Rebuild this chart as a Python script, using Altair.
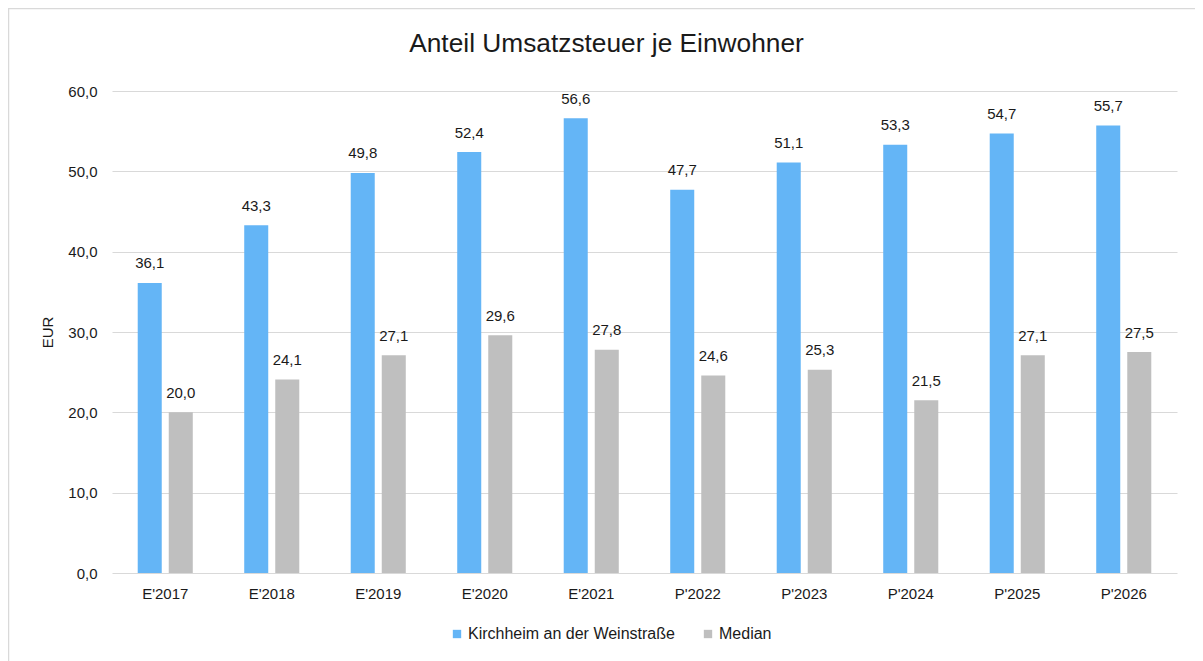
import altair as alt
import pandas as pd

categories = ["E'2017", "E'2018", "E'2019", "E'2020", "E'2021", "P'2022", "P'2023", "P'2024", "P'2025", "P'2026"]
kirchheim = [36.1, 43.3, 49.8, 52.4, 56.6, 47.7, 51.1, 53.3, 54.7, 55.7]
median = [20.0, 24.1, 27.1, 29.6, 27.8, 24.6, 25.3, 21.5, 27.1, 27.5]
series = ["Kirchheim an der Weinstraße", "Median"]
colors = ["#64B5F6", "#BFBFBF"]
y_ticks = [0, 10, 20, 30, 40, 50, 60]

rows = []
for c, k, m in zip(categories, kirchheim, median):
    rows.append({"cat": c, "series": series[0], "v": k})
    rows.append({"cat": c, "series": series[1], "v": m})
df = pd.DataFrame(rows)

FONT = "Liberation Sans"
TXT = "#1a1a1a"
FS = 15
W, H = 1065, 482

base = alt.Chart(df).encode(
    x=alt.X("cat:N", sort=categories, title=None,
            scale=alt.Scale(paddingInner=0.483, paddingOuter=0.2415),
            axis=alt.Axis(labelAngle=0, labelPadding=13, ticks=False, domain=False,
                          labelFontSize=FS, labelFont=FONT, labelColor=TXT, grid=False)),
    xOffset=alt.XOffset("series:N", sort=series,
                        scale=alt.Scale(paddingInner=0.226, paddingOuter=0)),
    y=alt.Y("v:Q", title="EUR",
            scale=alt.Scale(domain=[0, 60], nice=False),
            axis=alt.Axis(values=y_ticks, labelExpr="replace(format(datum.value, '.1f'), '.', ',')",
                          ticks=False, domain=False, labelPadding=15, labelFontSize=FS,
                          labelFont=FONT, labelColor=TXT, gridColor="#d9d9d9",
                          titleFont=FONT, titleFontSize=FS, titleFontWeight="normal",
                          titleColor=TXT, titlePadding=12)),
)

bars = base.mark_bar().encode(
    color=alt.Color("series:N", sort=series,
                    scale=alt.Scale(domain=series, range=colors),
                    legend=alt.Legend(title=None, orient="none", direction="horizontal",
                                      legendX=337, legendY=535, symbolType="square",
                                      symbolSize=70, symbolStrokeWidth=0, labelFont=FONT,
                                      labelFontSize=16, labelColor=TXT, labelLimit=0,
                                      labelOffset=3, columnPadding=25))
)

labels = base.mark_text(baseline="alphabetic", dy=-14.5, font=FONT, fontSize=FS, color=TXT).encode(
    text=alt.Text("lbl:N")
).transform_calculate(lbl="replace(format(datum.v, '.1f'), '.', ',')")

frame = alt.Chart(pd.DataFrame({"a": [1]})).mark_rect(
    fill=None, stroke="#d9d9d9", strokeWidth=1.5
).encode(
    x=alt.value(-103.5), x2=alt.value(1150), y=alt.value(-82.5), y2=alt.value(640)
)

chart = alt.layer(frame, bars, labels).properties(
    width=W, height=H,
    autosize=alt.AutoSizeParams(type="none"),
    padding={"left": 104, "top": 83, "right": 18, "bottom": 88},
    title=alt.TitleParams("Anteil Umsatzsteuer je Einwohner", font=FONT, fontSize=26.3,
                          fontWeight="normal", color=TXT, anchor="middle",
                          frame="group", dx=-38, offset=-50),
).configure_view(stroke=None)

chart.save("out.html", embed_options={"renderer": "svg", "actions": False})
